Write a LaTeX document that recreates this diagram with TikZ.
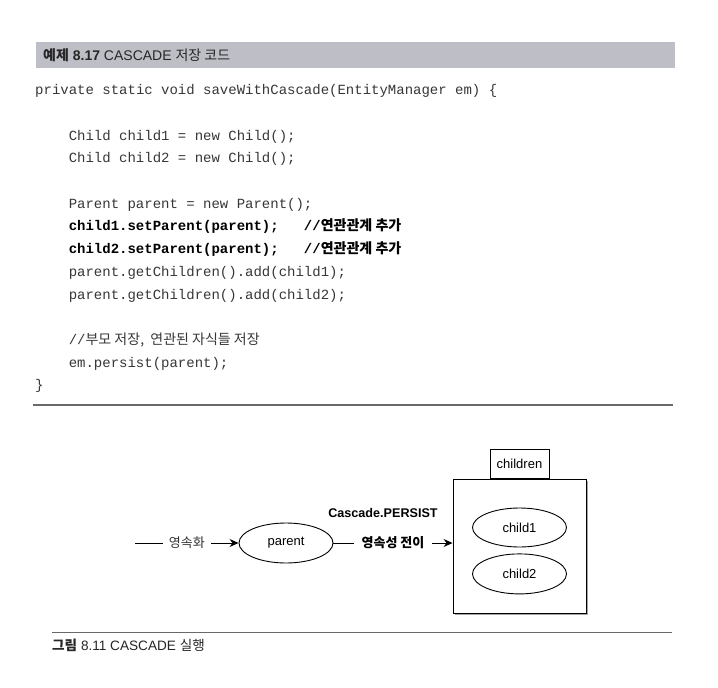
\documentclass[tikz,border=0pt]{standalone}
\usepackage{fontspec}
\setmainfont{Liberation Sans}
\setmonofont{Liberation Mono}
\newfontfamily\kr{Noto Sans CJK KR}
\usetikzlibrary{shapes,arrows.meta,matrix,positioning,shadows}

\definecolor{bargray}{RGB}{190,190,198}
\definecolor{codegray}{RGB}{55,55,55}
\definecolor{rulegray}{RGB}{105,105,105}

\newcommand{\ind}{\hspace*{33.6pt}}

\tikzset{
  lbl/.style={font=\fontsize{13}{15}\selectfont, inner sep=0pt},
  oval/.style={draw, ellipse, line width=0.9pt, minimum width=94pt,
    minimum height=40pt, inner sep=0pt, lbl},
  flow/.style={line width=0.9pt, -{Stealth[length=9pt,width=8pt,inset=3pt]}},
}

\begin{document}
\begin{tikzpicture}[x=1pt,y=-1pt]
  \fill[white] (0,0) rectangle (718,688);
  \useasboundingbox (0,0) rectangle (718,688);

  % title bar
  \fill[bargray] (36,42) rectangle (675,68);
  \node[lbl, font=\fontsize{14}{16}\selectfont, anchor=west, text=black!85] (title) at (43,55)
    {{\kr\bfseries 예제} \textbf{8.17} CASCADE {\kr 저장 코드}};

  \matrix (code) [%
    matrix of nodes,
    nodes in empty cells,
    anchor=north west, inner sep=0pt,
    row sep=9.2pt,
    column 1/.style={anchor=base west},
    nodes={inner sep=0pt, text height=10pt, text depth=3.5pt,
      font=\ttfamily\fontsize{14}{16}\selectfont, text=codegray}
  ] at (35,84.5) {%
    private static void saveWithCascade(EntityManager em) \{ \\
    \\
    \ind Child child1 = new Child(); \\
    \ind Child child2 = new Child(); \\
    \\
    \ind Parent parent = new Parent(); \\
    \ind{\bfseries\color{black}child1.setParent(parent);~~~//{\kr 연관관계 추가}} \\
    \ind{\bfseries\color{black}child2.setParent(parent);~~~//{\kr 연관관계 추가}} \\
    \ind parent.getChildren().add(child1); \\
    \ind parent.getChildren().add(child2); \\
    \\
    \ind //{\kr 부모 저장,~~연관된 자식들 저장} \\
    \ind em.persist(parent); \\
    \} \\
  };

  \draw[rulegray, line width=1.8pt] (33,405) -- (673,405);

  % CASCADE diagram
  \coordinate (start) at (135,543);
  \node[oval] (parent) at (286,543) {parent};
  \node[draw, fill=white, line width=0.9pt, minimum width=133pt, minimum height=134pt,
    drop shadow={shadow xshift=1.5pt, shadow yshift=-1.5pt, opacity=0.7}]
    (box) at (519.5,546) {};
  \node[draw, line width=0.9pt, lbl, minimum width=59pt, minimum height=29pt,
    above=0pt of box] (tab) {children};
  \node[oval, minimum height=39pt] (child1) at (519.5,527.5) {child1};
  \node[oval, below=6pt of child1] (child2) {child2};

  \draw[flow] (start) -- node[lbl, fill=white, inner xsep=6pt, text=black!80]
    {\kr 영속화} (parent);
  \draw[flow] (parent) -- node[lbl, fill=white, inner xsep=8pt]
    (trans) {\kr\bfseries 영속성 전이} (parent -| box.west);
  \node[lbl, font=\bfseries\fontsize{12.6}{15}\selectfont] (persist) at (383,513)
    {Cascade.PERSIST};

  \draw[rulegray, line width=1pt] (52,632) -- (672,632);
  \node[lbl, font=\fontsize{13.6}{16}\selectfont, anchor=west, text=black!85] (caption) at (52,645)
    {{\kr\bfseries 그림} 8.11 CASCADE {\kr 실행}};
\end{tikzpicture}
\end{document}
